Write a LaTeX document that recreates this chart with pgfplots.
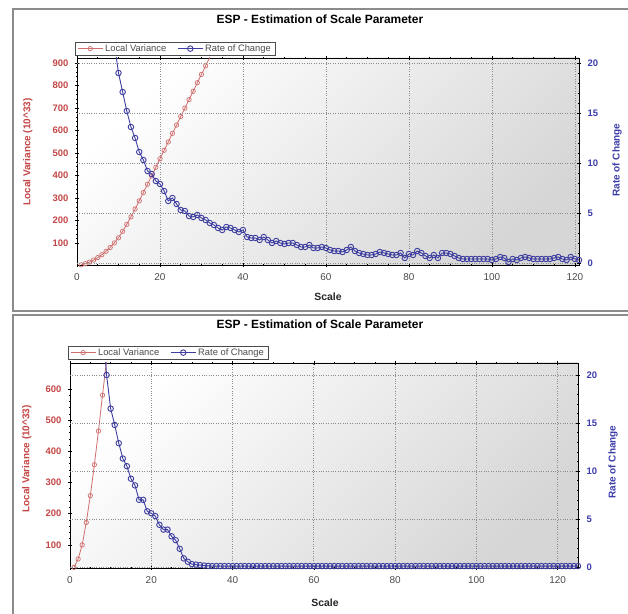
\documentclass[border=0pt]{standalone}
\usepackage{pgfplots}
\pgfplotsset{compat=1.18}
\usepackage{fontspec}
\setmainfont{Liberation Sans}

\definecolor{lvred}{RGB}{196,70,70}
\definecolor{lvline}{RGB}{208,110,110}
\definecolor{rcblue}{RGB}{60,60,170}
\definecolor{rcline}{RGB}{62,62,160}
\definecolor{framegray}{RGB}{140,140,140}

\pgfplotsset{
  espcommon/.style={
    scale only axis,
    /pgf/number format/assume math mode=true,
    axis line style={black, line width=0.9bp},
    tick style={black, line width=0.6bp},
    tick align=center,
    major tick length=4bp, minor tick length=2bp,
    clip=true,
  },
  espleft/.style={
    espcommon,
    axis background/.style={shade, top color=white, bottom color=black!16, shading angle=45},
    xtick={0,20,...,120}, minor x tick num=3,
    xmajorgrids, grid style={dotted, black!45, line width=0.7bp},
    ytick pos=left, minor y tick num=4,
    xticklabel style={font=\fontsize{10}{11}\selectfont, text=black!70, yshift=-3bp},
    yticklabel style={font=\bfseries\fontsize{9.5}{10}\selectfont, text=lvred, xshift=-3bp},
    title style={font=\bfseries\fontsize{12}{13}\selectfont, anchor=center},
    xlabel style={font=\bfseries\fontsize{10.5}{11}\selectfont, text=black!85, anchor=center},
    ylabel style={font=\bfseries\fontsize{10}{11}\selectfont, text=lvred, anchor=center},
  },
  espright/.style={
    espcommon,
    axis x line=none, axis y line*=right,
    ytick={0,5,...,20}, minor y tick num=4,
    ymajorgrids, grid style={dotted, black!45, line width=0.7bp},
    yticklabel style={font=\bfseries\fontsize{9.5}{10}\selectfont, text=rcblue, xshift=3bp},
    ylabel style={font=\bfseries\fontsize{10}{11}\selectfont, text=rcblue, anchor=center},
    legend columns=2,
    legend cell align=left,
    legend style={draw=black!70, fill=white, line width=0.6bp,
      font=\fontsize{9.4}{9.8}\selectfont, text=black!70, anchor=north west,
      inner xsep=2bp, inner ysep=0.2bp,
      /tikz/every even column/.append style={column sep=9bp}},
    legend image code/.code={\draw[mark repeat=2, mark phase=2]
      plot coordinates {(0bp,0bp) (12.5bp,0bp) (25bp,0bp)};},
  },
  lvstyle/.style={color=lvline, line width=0.8bp, mark=o, mark size=2.2bp,
    mark options={fill=white, line width=0.7bp}},
  rcstyle/.style={color=rcline, line width=0.9bp, mark=o, mark size=2.75bp,
    mark options={fill=white, line width=0.9bp}},
}

\begin{document}
\begin{tikzpicture}[x=1bp, y=1bp]
\useasboundingbox (0,0) rectangle (628,614);
\fill[white] (0,0) rectangle (628,614);
\draw[framegray, line width=1.6bp] (13,605) rectangle (660,303);
\draw[framegray, line width=1.6bp] (13,299) rectangle (660,-20);

% ---------- top panel ----------
\begin{axis}[espleft,
  at={(77bp,348.5bp)}, anchor=south west,
  width=502bp, height=207.5bp,
  xmin=0, xmax=121, ymin=0, ymax=922,
  ytick={100,200,...,900},
  title={ESP - Estimation of Scale Parameter},
  title style={at={(axis description cs:0.484,1.159)}},
  xlabel={Scale},
  xlabel style={at={(axis description cs:0.5,-0.152)}},
  ylabel={Local Variance (10\textasciicircum 33)},
  ylabel style={at={(axis description cs:-0.098,0.547)}},
]
\addplot[lvstyle] coordinates {
 (1,3) (2,8) (3,15) (4,24) (5,35) (6,48) (7,63) (8,80) (9,100) (10,123)
 (11,152) (12,183) (13,216) (14,251) (15,287) (16,324) (17,361) (18,398)
 (19,436) (20,474) (21,512) (22,549) (23,587) (24,624) (25,662) (26,699)
 (27,737) (28,774) (29,812) (30,849) (31,887) (32,924) (33,962)
};
\end{axis}

\begin{axis}[espright,
  at={(77bp,348.5bp)}, anchor=south west,
  width=502bp, height=207.5bp,
  xmin=0, xmax=121, ymin=-0.25, ymax=20.5,
  ylabel={Rate of Change},
  ylabel style={at={(axis description cs:1.076,0.508)}},
  legend style={at={(axis description cs:-0.004,1.077)}},
]
\addlegendimage{lvstyle}
\addplot[rcstyle] coordinates {
 (8,26) (9,22) (10,19.0) (11,17.1) (12,15.2) (13,13.6) (14,12.5) (15,11.1)
 (16,10.3) (17,9.2) (18,8.9) (19,8.2) (20,7.9) (21,7.2) (22,6.2) (23,6.5)
 (24,5.9) (25,5.3) (26,5.2) (27,4.7) (28,4.6) (29,4.8) (30,4.5) (31,4.3)
 (32,4.0) (33,3.8) (34,3.5) (35,3.3) (36,3.6) (37,3.5) (38,3.3) (39,3.1)
 (40,3.3) (41,2.6) (42,2.5) (43,2.5) (44,2.3) (45,2.6) (46,2.3) (47,2.0)
 (48,2.2) (49,2.0) (50,1.9) (51,2.0) (52,2.0) (53,1.8) (54,1.6) (55,1.6)
 (56,1.8) (57,1.5) (58,1.5) (59,1.6) (60,1.5) (61,1.3) (62,1.2) (63,1.2)
 (64,1.1) (65,1.3) (66,1.6) (67,1.2) (68,1.0) (69,0.9) (70,0.8) (71,0.8)
 (72,0.9) (73,1.1) (74,1.0) (75,0.9) (76,0.8) (77,0.8) (78,1.0) (79,0.5)
 (80,0.9) (81,0.8) (82,1.2) (83,1.0) (84,0.7) (85,0.5) (86,0.8) (87,0.5)
 (88,1.0) (89,1.0) (90,0.9) (91,0.7) (92,0.5) (93,0.4) (94,0.4) (95,0.4)
 (96,0.4) (97,0.4) (98,0.4) (99,0.4) (100,0.3) (101,0.4) (102,0.6) (103,0.5)
 (104,0.1) (105,0.4) (106,0.3) (107,0.5) (108,0.6) (109,0.5) (110,0.4) (111,0.4)
 (112,0.4) (113,0.4) (114,0.4) (115,0.5) (116,0.6) (117,0.4) (118,0.3) (119,0.6)
 (120,0.4) (121,0.3)
};
\legend{Local Variance, Rate of Change}
\end{axis}

% ---------- bottom panel ----------
\begin{axis}[espleft,
  at={(70bp,46bp)}, anchor=south west,
  width=508bp, height=205bp,
  xmin=0, xmax=125, ymin=26, ymax=683,
  ytick={100,200,...,600},
  title={ESP - Estimation of Scale Parameter},
  title style={at={(axis description cs:0.492,1.161)}},
  xlabel={Scale},
  xlabel style={at={(axis description cs:0.502,-0.171)}},
  ylabel={Local Variance (10\textasciicircum 33)},
  ylabel style={at={(axis description cs:-0.085,0.532)}},
]
\addplot[lvstyle] coordinates {
 (1,28) (2,55) (3,100) (4,172) (5,258) (6,357) (7,465) (8,580) (9,692) (10,810)
};
\end{axis}

\begin{axis}[espright,
  at={(70bp,46bp)}, anchor=south west,
  width=508bp, height=205bp,
  xmin=0, xmax=125, ymin=-0.1, ymax=21.25,
  ylabel={Rate of Change},
  ylabel style={at={(axis description cs:1.069,0.517)}},
  legend style={at={(axis description cs:-0.004,1.083)}},
]
\addlegendimage{lvstyle}
\addplot[rcstyle] coordinates {
 (8,26) (9,20.0) (10,16.5) (11,14.8) (12,12.9) (13,11.3) (14,10.5) (15,9.2)
 (16,8.5) (17,7.0) (18,7.0) (19,5.8) (20,5.6) (21,5.3) (22,4.4) (23,3.9)
 (24,3.9) (25,3.2) (26,2.8) (27,1.9) (28,0.9) (29,0.55) (30,0.3) (31,0.25)
 (32,0.2) (33,0.15) (34,0.12) (35,0.1) (36,0.1) (37,0.1) (38,0.1) (39,0.1)
 (40,0.1) (41,0.1) (42,0.1) (43,0.1) (44,0.1) (45,0.1) (46,0.1) (47,0.1)
 (48,0.1) (49,0.1) (50,0.1) (51,0.1) (52,0.1) (53,0.1) (54,0.1) (55,0.1)
 (56,0.1) (57,0.1) (58,0.1) (59,0.1) (60,0.1) (61,0.1) (62,0.1) (63,0.1)
 (64,0.1) (65,0.1) (66,0.1) (67,0.1) (68,0.1) (69,0.1) (70,0.1) (71,0.1)
 (72,0.1) (73,0.1) (74,0.1) (75,0.1) (76,0.1) (77,0.1) (78,0.1) (79,0.1)
 (80,0.1) (81,0.1) (82,0.1) (83,0.1) (84,0.1) (85,0.1) (86,0.1) (87,0.1)
 (88,0.1) (89,0.1) (90,0.1) (91,0.1) (92,0.1) (93,0.1) (94,0.1) (95,0.1)
 (96,0.1) (97,0.1) (98,0.1) (99,0.1) (100,0.1) (101,0.1) (102,0.1) (103,0.1)
 (104,0.1) (105,0.1) (106,0.1) (107,0.1) (108,0.1) (109,0.1) (110,0.1) (111,0.1)
 (112,0.1) (113,0.1) (114,0.1) (115,0.1) (116,0.1) (117,0.1) (118,0.1) (119,0.1)
 (120,0.1) (121,0.1) (122,0.1) (123,0.1) (124,0.1) (125,0.1)
};
\legend{Local Variance, Rate of Change}
\end{axis}
\end{tikzpicture}
\end{document}
